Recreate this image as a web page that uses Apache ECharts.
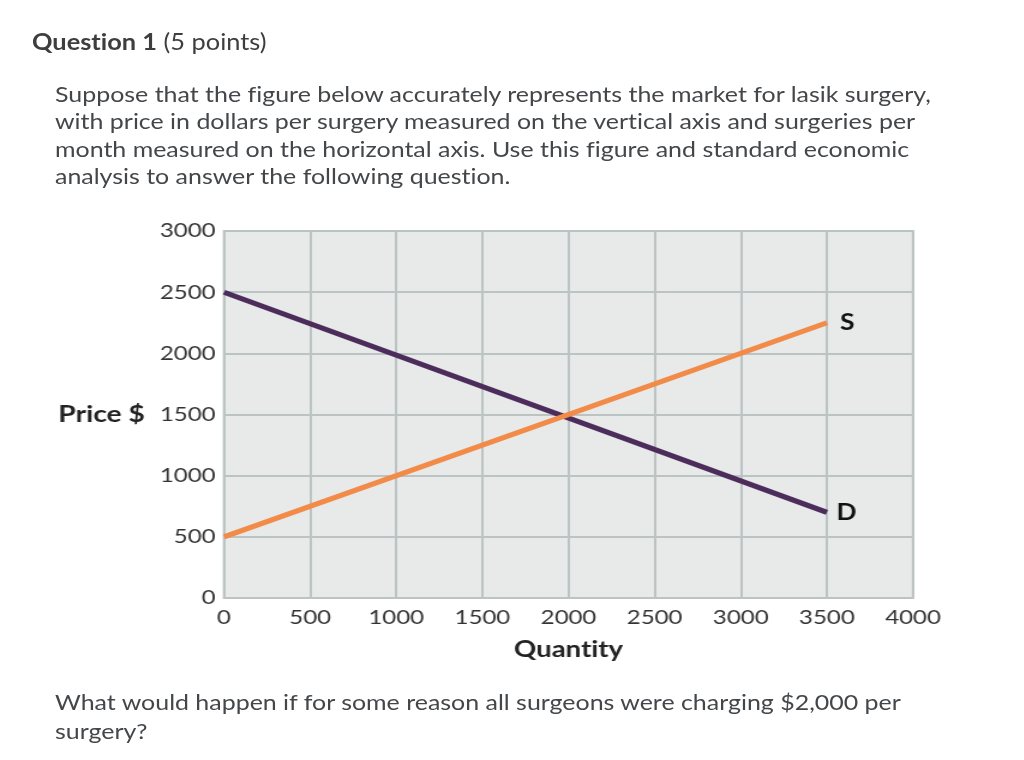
<!DOCTYPE html>
<html><head><meta charset="utf-8">
<script src="https://cdn.jsdelivr.net/npm/echarts@6/dist/echarts.min.js"></script>
<style>
html,body{margin:0;padding:0;background:#fff;}
#wrap{position:relative;width:1024px;height:760px;overflow:hidden;font-family:Lato,"Open Sans",sans-serif;font-variant-ligatures:none;}
#chart{position:absolute;left:0;top:0;width:853.333px;height:760px;transform:scaleX(1.2);transform-origin:0 0;}
.t{position:absolute;color:#44474a;white-space:nowrap;transform-origin:0 0;}
#q{left:32px;top:27px;font-size:23.5px;color:#3e3e3e;transform:scaleX(1.08);}
#p{left:55px;top:81px;font-size:21.5px;line-height:27.4px;transform:scaleX(1.16);}
#b{left:55px;top:688px;font-size:21.5px;line-height:28.5px;transform:scaleX(1.16);}
</style></head>
<body><div id="wrap">
<div id="chart"></div>
<div class="t" id="q"><b>Question 1</b> (5 points)</div>
<div class="t" id="p">Suppose that the figure below accurately represents the market for lasik surgery,<br>with price in dollars per surgery measured on the vertical axis and surgeries per<br>month measured on the horizontal axis. Use this figure and standard economic<br>analysis to answer the following question.</div>
<div class="t" id="b">What would happen if for some reason all surgeons were charging $2,000 per<br>surgery?</div>
</div>
<script>
const xTicks = [0, 500, 1000, 1500, 2000, 2500, 3000, 3500, 4000];
const yTicks = [0, 500, 1000, 1500, 2000, 2500, 3000];
const demandQ = [0, 3500];
const demandP = [2500, 700];
const supplyQ = [0, 3500];
const supplyP = [500, 2250];

const S = 1.2; // horizontal stretch applied to the chart container
const chart = echarts.init(document.getElementById('chart'));
const gridColor = '#bcc3c3';
chart.setOption({
  animation: false,
  grid: {left: 224 / S, top: 231, width: 689 / S, height: 367, show: true, backgroundColor: '#e8eaea', borderColor: gridColor, borderWidth: 2},
  xAxis: {
    type: 'value', min: xTicks[0], max: xTicks[xTicks.length - 1], interval: xTicks[1] - xTicks[0],
    name: 'Quantity', nameLocation: 'middle', nameGap: 40,
    nameTextStyle: {fontFamily: 'Lato', fontWeight: 'bold', fontSize: 23, color: '#222'},
    axisLine: {show: false}, axisTick: {show: false},
    axisLabel: {fontFamily: 'Lato', fontSize: 20, color: '#333', margin: 10, formatter: v => String(v)},
    splitLine: {show: true, lineStyle: {color: gridColor, width: 2}}
  },
  yAxis: {
    type: 'value', min: yTicks[0], max: yTicks[yTicks.length - 1], interval: yTicks[1] - yTicks[0],
    name: 'Price $', nameLocation: 'middle', nameGap: 66, nameRotate: 0,
    nameTextStyle: {fontFamily: 'Lato', fontWeight: 'bold', fontSize: 23.5, color: '#222', align: 'right'},
    axisLine: {show: false}, axisTick: {show: false},
    axisLabel: {fontFamily: 'Lato', fontSize: 20, color: '#333', margin: 7, formatter: v => String(v)},
    splitLine: {show: true, lineStyle: {color: gridColor, width: 2}}
  },
  series: [
    {type: 'line', data: demandQ.map((q, i) => [q, demandP[i]]), symbol: 'none',
     lineStyle: {color: '#4b2c5a', width: 5},
     endLabel: {show: true, formatter: 'D', fontFamily: 'Lato', fontWeight: 'bold', fontSize: 22, color: '#111', offset: [0, 1]}},
    {type: 'line', data: supplyQ.map((q, i) => [q, supplyP[i]]), symbol: 'none',
     lineStyle: {color: '#f28a48', width: 5},
     endLabel: {show: true, formatter: 'S', fontFamily: 'Lato', fontWeight: 'bold', fontSize: 22, color: '#111', offset: [3, 0]}}
  ]
});
</script>
</body></html>
